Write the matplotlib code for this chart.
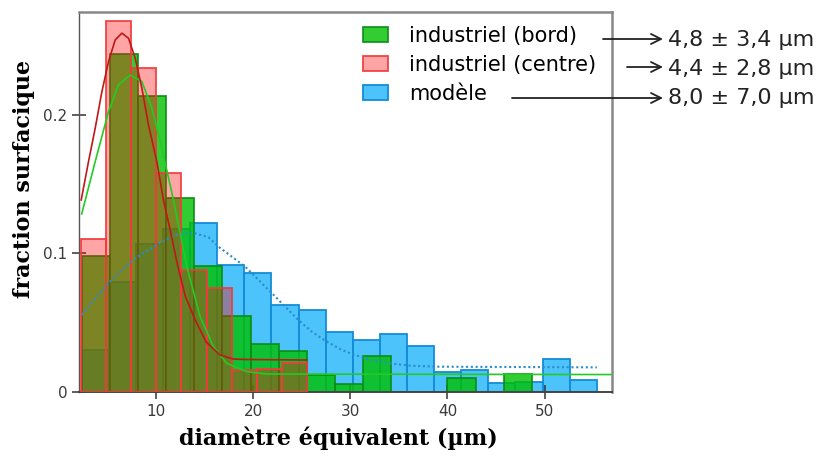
import numpy as np
import matplotlib.pyplot as plt

# histogram bins (start, width) and heights
bord_start, bord_width = 2.34, 2.897
bord_h = [0.0981, 0.2442, 0.2136, 0.1398, 0.0911, 0.0550, 0.0345, 0.0294,
          0.0121, 0.0056, 0.0260, 0.0, 0.0, 0.0101, 0.0, 0.0128]

centre_start, centre_width = 2.27, 2.584
centre_h = [0.1102, 0.2683, 0.2343, 0.1584, 0.0880, 0.0748, 0.0157, 0.0162, 0.0205]

modele_start, modele_width = 2.33, 2.792
modele_h = [0.0302, 0.0795, 0.1066, 0.1174, 0.1218, 0.0916, 0.0861, 0.0627,
            0.0591, 0.0434, 0.0374, 0.0415, 0.0333, 0.0140, 0.0157, 0.0061,
            0.0072, 0.0234, 0.0085]

# fitted curves, points
centre_fx = [2.28, 3.03, 3.72, 4.41, 5.09, 5.78, 6.47, 7.15, 7.84, 8.53, 9.21,
             10.07, 10.75, 11.44, 12.13, 12.99, 14.02, 15.15, 16.59, 17.93,
             19.16, 25.52]
centre_fy = [0.1386, 0.1663, 0.1905, 0.2169, 0.2386, 0.2543, 0.2592, 0.2555,
             0.2411, 0.2194, 0.1928, 0.1663, 0.1386, 0.1169, 0.0938, 0.0692,
             0.0518, 0.0359, 0.0265, 0.0236, 0.0233, 0.0229]

bord_fx = [2.33, 3.72, 5.09, 6.12, 7.32, 8.53, 9.56, 10.59, 11.78, 13.16,
           14.53, 15.90, 17.28, 19.34, 21.40, 57.0]
bord_fy = [0.1285, 0.1663, 0.2025, 0.2218, 0.2290, 0.2242, 0.2049, 0.1760,
           0.1386, 0.0904, 0.0542, 0.0325, 0.0205, 0.0145, 0.0128, 0.0124]

modele_fx = [2.35, 3.72, 5.09, 6.47, 7.84, 9.21, 10.59, 11.96, 13.33, 14.02,
             15.39, 16.42, 17.80, 19.17, 20.54, 21.92, 23.29, 24.65, 26.04,
             27.40, 29.12, 29.98, 32.04, 34.10, 36.15, 38.91, 55.39]
modele_fy = [0.0555, 0.0675, 0.0784, 0.0880, 0.0965, 0.1025, 0.1085, 0.1133,
             0.1145, 0.1145, 0.1116, 0.1048, 0.0976, 0.0904, 0.0808, 0.0712,
             0.0615, 0.0518, 0.0434, 0.0369, 0.0302, 0.0278, 0.0229, 0.0205,
             0.0188, 0.0181, 0.0176]

labels = ['industriel (bord)', 'industriel (centre)', 'modèle']
stats = ['4,8 ± 3,4 µm', '4,4 ± 2,8 µm', '8,0 ± 7,0 µm']

fig = plt.figure(figsize=(8.21, 4.59), dpi=100)
ax = fig.add_axes([0.0968, 0.1466, 0.6492, 0.8273])

def edges(start, width, n):
    return start + width*np.arange(n)

hb = ax.bar(edges(modele_start, modele_width, len(modele_h)), modele_h,
            width=modele_width, align='edge',
            facecolor=(0, 170/255, 250/255, 0.7), edgecolor=(20/255, 140/255, 215/255, 1),
            linewidth=1.3, label=labels[2], zorder=1)
hg = ax.bar(edges(bord_start, bord_width, len(bord_h)), bord_h,
            width=bord_width, align='edge',
            facecolor=(0, 192/255, 0, 0.8), edgecolor=(10/255, 140/255, 20/255, 0.9),
            linewidth=1.3, label=labels[0], zorder=2)
hr = ax.bar(edges(centre_start, centre_width, len(centre_h)), centre_h,
            width=centre_width, align='edge',
            facecolor=(1, 9/255, 9/255, 0.366), edgecolor=(240/255, 60/255, 60/255, 0.95),
            linewidth=1.3, label=labels[1], zorder=3)

ax.plot(modele_fx, modele_fy, color='#2a8ccc', lw=1.5, ls=(0, (1, 1.3)), zorder=5)
ax.plot(bord_fx, bord_fy, color='#22cc22', lw=1.2, zorder=5)
ax.plot(centre_fx, centre_fy, color='#c01818', lw=1.2, zorder=6)

ax.set_xlim(2.1, 57.0)
ax.set_ylim(0, 0.2745)
ax.set_xticks([10, 20, 30, 40, 50])
ax.set_yticks([0, 0.1, 0.2])
ax.set_yticklabels(['0', '0.1', '0.2'])
ax.tick_params(direction='inout', length=9.5, width=1.1, color='#333333',
               labelsize=11, labelcolor='#3a3a3a')
ax.tick_params(axis='x', pad=4)
ax.tick_params(axis='y', pad=4)
for s in ['top', 'right']:
    ax.spines[s].set_color('#888888')
    ax.spines[s].set_linewidth(1.8)
ax.spines['left'].set_color('#555555')
ax.spines['left'].set_linewidth(1.0)
ax.spines['bottom'].set_color('#444444')
ax.spines['bottom'].set_linewidth(1.4)

ax.set_xlabel('diamètre équivalent (µm)', family='DejaVu Serif', weight='bold',
              fontsize=16)
ax.xaxis.set_label_coords(0.485, -0.122, transform=ax.transAxes)
ax.xaxis.label.set_va('center')
ax.set_ylabel('fraction surfacique', family='DejaVu Serif', weight='bold',
              fontsize=16)
ax.yaxis.set_label_coords(-0.105, 0.56, transform=ax.transAxes)
ax.yaxis.label.set_va('center')

leg = ax.legend([hg, hr, hb], labels, loc='upper left',
                bbox_to_anchor=(363/821, 1 - 26/459), bbox_transform=fig.transFigure,
                frameon=False, fontsize=15, handlelength=1.2, handleheight=0.7,
                handletextpad=1.0, labelspacing=0.43, borderaxespad=0, borderpad=0)

# arrows and stats to the right
arrow_from = [603, 627, 512]
arrow_y = [39, 67, 98]
text_y = [40, 69, 98]
for x0, ya, yt, s in zip(arrow_from, arrow_y, text_y, stats):
    ax.annotate('', xy=(663/821, 1 - ya/459), xytext=(x0/821, 1 - ya/459),
                xycoords='figure fraction', textcoords='figure fraction',
                arrowprops=dict(arrowstyle='->', lw=1.3, color='#222222',
                                mutation_scale=18, shrinkA=0, shrinkB=0),
                annotation_clip=False)
    fig.text(668/821, 1 - yt/459, s, fontsize=16, color='#222222',
             ha='left', va='center', family='DejaVu Sans')

plt.savefig('out.png', dpi=100)
